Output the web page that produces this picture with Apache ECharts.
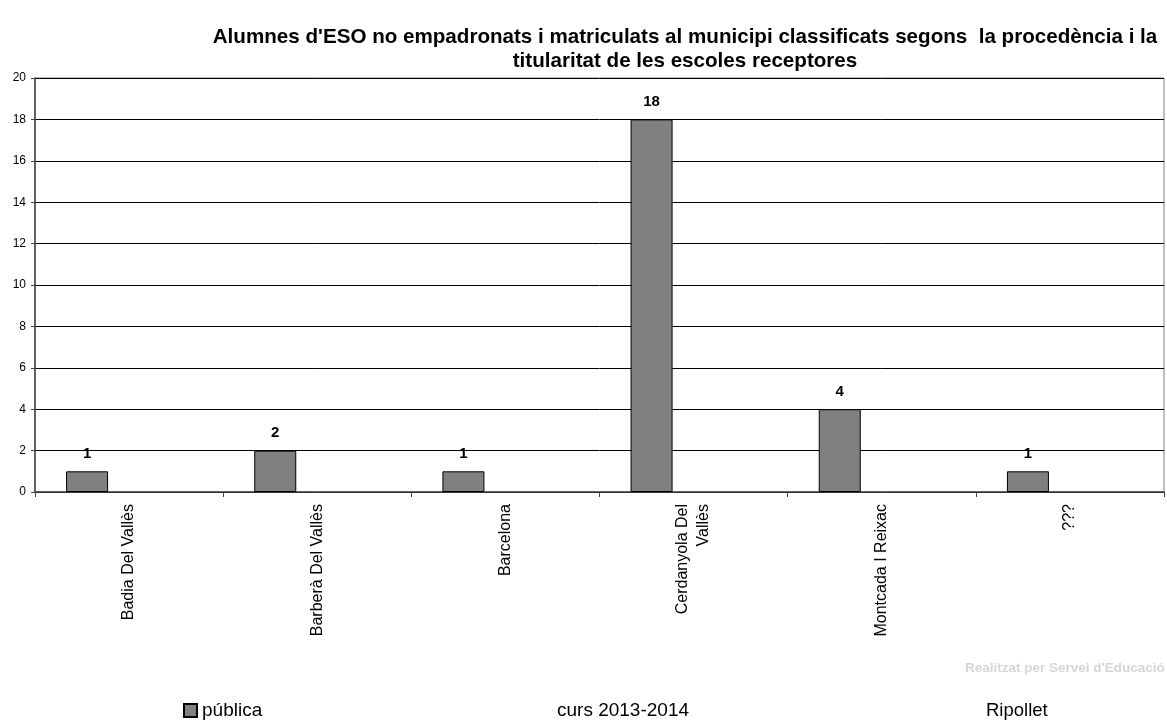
<!DOCTYPE html>
<html>
<head>
<meta charset="utf-8">
<script src="https://cdn.jsdelivr.net/npm/echarts@6/dist/echarts.min.js"></script>
<style>html,body{margin:0;padding:0;background:#fff;}#c{width:1167px;height:720px;}</style>
</head>
<body>
<div id="c"></div>
<script>
const categories = ['Badia Del Vallès', 'Barberà Del Vallès', 'Barcelona', 'Cerdanyola Del\nVallès', 'Montcada I Reixac', '???'];
const publica = [1, 2, 1, 18, 4, 1];
const concertada = ['-', '-', '-', '-', '-', '-'];
const privada = ['-', '-', '-', '-', '-', '-'];
const yTicks = [0, 2, 4, 6, 8, 10, 12, 14, 16, 18, 20];
const titleText = "Alumnes d'ESO no empadronats i matriculats al municipi classificats segons  la procedència i la\ntitularitat de les escoles receptores";
const courseText = 'curs 2013-2014';
const townText = 'Ripollet';
const creditText = "Realitzat per Servei d'Educació";

const chart = echarts.init(document.getElementById('c'), null, {renderer: 'canvas'});
const font = 'Liberation Sans, Arial, sans-serif';
chart.setOption({
  animation: false,
  backgroundColor: '#fff',
  title: {
    text: titleText,
    left: 680, top: 20, textAlign: 'center',
    textStyle: {fontFamily: font, fontWeight: 'bold', fontSize: 20.6, color: '#000', lineHeight: 24}
  },
  legend: {
    data: ['pública'],
    left: 183, top: 701, padding: 0,
    itemWidth: 13, itemHeight: 13, itemGap: 4,
    icon: 'rect',
    textStyle: {fontFamily: font, fontSize: 19, color: '#000', padding: [0, 0, 0, 0]}
  },
  grid: {left: 35, right: 3, top: 78, bottom: 228, containLabel: false,
    show: true, borderColor: '#808080', borderWidth: 1},
  xAxis: {
    type: 'category',
    data: categories,
    axisLine: {lineStyle: {color: '#444', width: 1.5}},
    axisTick: {show: true, alignWithLabel: false, length: 5, lineStyle: {color: '#444'}},
    axisLabel: {rotate: 90, margin: 12, fontFamily: font, fontSize: 16, color: '#000', interval: 0, align: 'right', verticalAlign: 'middle', lineHeight: 21}
  },
  yAxis: {
    type: 'value', min: 0, max: 20, interval: 2,
    axisLine: {show: true, lineStyle: {color: '#444', width: 1.5}},
    axisTick: {show: true, length: 4, inside: false, lineStyle: {color: '#444'}},
    axisLabel: {fontFamily: font, fontSize: 12, color: '#000', margin: 9,
      formatter: v => yTicks.indexOf(v) >= 0 ? String(v) : ''},
    splitLine: {lineStyle: {color: '#000', width: 1}}
  },
  series: [
    {name: 'pública', type: 'bar', data: publica, barWidth: 42, barGap: '0%',
      itemStyle: {color: '#808080', borderColor: '#000', borderWidth: 1},
      label: {show: true, position: 'top', distance: 10, fontFamily: font, fontWeight: 'bold', fontSize: 15, color: '#000'}},
    {name: 'concertada', type: 'bar', data: concertada, barWidth: 42, barGap: '0%',
      itemStyle: {color: '#c0c0c0', borderColor: '#000', borderWidth: 1}},
    {name: 'privada', type: 'bar', data: privada, barWidth: 42, barGap: '0%',
      itemStyle: {color: '#404040', borderColor: '#000', borderWidth: 1}}
  ],
  graphic: [
    {type: 'text', left: 557, top: 701, style: {text: courseText, fontFamily: font, fontSize: 19, fill: '#000'}},
    {type: 'text', left: 986, top: 701, style: {text: townText, fontFamily: font, fontSize: 18.5, fill: '#000'}},
    {type: 'text', left: 965, top: 661, style: {text: creditText, fontFamily: font, fontWeight: 'bold', fontSize: 13.5, fill: '#d6d6d6'}}
  ]
});
</script>
</body>
</html>
